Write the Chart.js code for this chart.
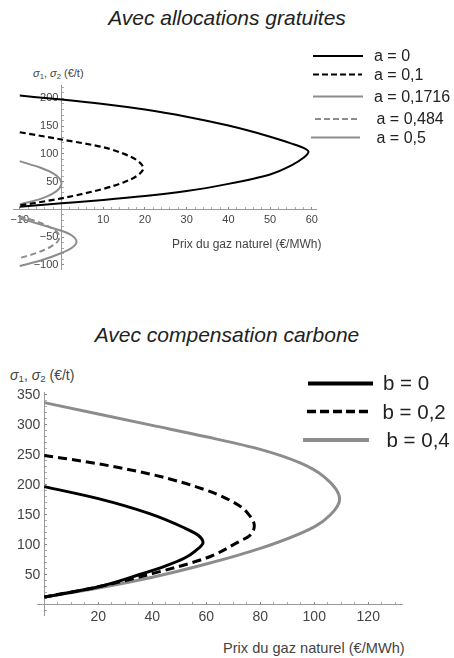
<!DOCTYPE html>
<html lang="fr">
<head>
<meta charset="utf-8">
<title>Prix du gaz naturel et prix du carbone</title>
<script src="https://cdn.jsdelivr.net/npm/chart.js@4.4.1/dist/chart.umd.min.js"></script>
<style>
  body { margin: 0; background: #fff; }
  #page { position: relative; width: 454px; height: 658px; overflow: hidden;
          font-family: 'Liberation Sans', Arial, sans-serif; color: #222; }
  .t { position: absolute; line-height: 1; white-space: nowrap; }
  .title { left: 0; width: 454px; text-align: center; font-size: 21px; font-style: italic; }
  .sig sub { font-size: 0.7em; vertical-align: -0.25em; line-height: 0; }
  canvas { position: absolute; left: 0; }
  svg { position: absolute; left: 0; top: 0; }
</style>
</head>
<body>
<div id="page">
  <div class="t title" style="top:7px">Avec allocations gratuites</div>
  <div class="t sig" style="left:33px;top:68px;font-size:11px;color:#444"><i>σ</i><sub>1</sub>, <i>σ</i><sub>2</sub> (€/t)</div>
  <canvas id="chartA" width="454" height="205" style="top:75px"></canvas>
  <div class="t" style="left:172px;top:238px;font-size:12px;color:#444">Prix du gaz naturel (€/MWh)</div>

  <div class="t title" style="top:324px">Avec compensation carbone</div>
  <div class="t sig" style="left:10px;top:368px;font-size:14px;color:#444"><i>σ</i><sub>1</sub>, <i>σ</i><sub>2</sub> (€/t)</div>
  <canvas id="chartB" width="454" height="250" style="top:380px"></canvas>
  <div class="t" style="left:223px;top:641px;font-size:14.6px;color:#444">Prix du gaz naturel (€/MWh)</div>

  <svg width="454" height="658">
    <line x1="313" y1="56" x2="363" y2="56" stroke="#000" stroke-width="2"/>
    <line x1="313" y1="74.5" x2="362" y2="74.5" stroke="#000" stroke-width="2.2" stroke-dasharray="6 3"/>
    <line x1="313" y1="96.5" x2="363" y2="96.5" stroke="#8c8c8c" stroke-width="2"/>
    <line x1="315" y1="119" x2="358" y2="119" stroke="#8c8c8c" stroke-width="2" stroke-dasharray="6 3"/>
    <line x1="311" y1="137.5" x2="360" y2="137.5" stroke="#8c8c8c" stroke-width="2"/>
    <line x1="308" y1="383.5" x2="373" y2="383.5" stroke="#000" stroke-width="4"/>
    <line x1="307" y1="411.5" x2="368" y2="411.5" stroke="#000" stroke-width="3.5" stroke-dasharray="9 4"/>
    <line x1="303" y1="440" x2="369" y2="440" stroke="#8c8c8c" stroke-width="4"/>
  </svg>
  <div class="t" style="left:374px;top:48px;font-size:16px">a = 0</div>
  <div class="t" style="left:374px;top:66.5px;font-size:16px">a = 0,1</div>
  <div class="t" style="left:374px;top:88.5px;font-size:16px">a = 0,1716</div>
  <div class="t" style="left:376.5px;top:111px;font-size:16px">a = 0,484</div>
  <div class="t" style="left:376.5px;top:129.5px;font-size:16px">a = 0,5</div>
  <div class="t" style="left:383px;top:373px;font-size:20.5px">b = 0</div>
  <div class="t" style="left:382.5px;top:401.5px;font-size:20.5px">b = 0,2</div>
  <div class="t" style="left:386.5px;top:429.5px;font-size:20.5px">b = 0,4</div>
</div>

<script>
'use strict';

// Avec allocations gratuites : prix du gaz (x) et sigma (y), le long de chaque courbe
const a0Price    = [-10, 0, 10, 20, 30, 40, 50, 55, 58, 59.2, 58, 55, 50, 40, 30, 20, 10, 0, -10];
const a0Sigma    = [205, 198, 190, 180, 167, 151, 131, 119, 111, 104, 93, 79, 63, 46, 33, 24, 17, 11, 5];
const a01Price   = [-10, 0, 10, 15, 18, 19.6, 18, 15, 10, 0, -10];
const a01Sigma   = [139, 126, 112, 100, 89, 74, 60, 49, 37, 20, 7];
const a017Price  = [-10, -5, -2, -0.5, 0, -0.5, -2, -5, -10];
const a017Sigma  = [87, 75, 65, 56, 47, 38, 29, 19, 9];
const a0484Price = [-10, -6, -3, -1, -0.5, -1, -3, -6, -10];
const a0484Sigma = [-12.5, -21.5, -31, -41.5, -50, -58.5, -69, -78.5, -87.5];
const a05Price   = [-10, -5, 0, 2.5, 3.6, 2.5, 0, -5, -10];
const a05Sigma   = [-16, -27, -38.5, -47, -58, -69, -78.5, -92, -102];

// Avec compensation carbone
const b0Price  = [0, 20, 39, 52, 57, 58.8, 56, 52, 45, 35, 20, 10, 0];
const b0Sigma  = [197, 177, 152, 128, 116, 104, 90, 78, 65, 50, 30, 21, 13];
const b02Price = [0, 20, 40, 60, 72, 76, 77.8, 76, 72, 60, 40, 20, 0];
const b02Sigma = [249, 235, 217, 191, 166, 149, 132, 115, 105, 78, 52, 30, 13];
const b04Price = [0, 20, 40, 60, 80, 95, 104, 109.4, 106, 100, 80, 60, 40, 20, 0];
const b04Sigma = [337, 318, 299, 280, 259, 236, 212, 176, 150, 130, 94, 68, 46, 28, 13];

const BLACK = '#000';
const GRAY = '#8c8c8c';
const AXIS = '#999';
const LABEL = '#444';
const FONT = "'Liberation Sans', Arial, sans-serif";

const pts = (xs, ys) => xs.map((x, i) => ({ x, y: ys[i] }));
const minus = v => (v < 0 ? '\u2212' + Math.abs(v) : String(v));

// chaque courbe est une fonction prix(sigma) : interpolation monotone le long de l'axe y
function curve(xs, ys, color, width, dash) {
  return {
    data: pts(xs, ys),
    showLine: true,
    borderColor: color,
    borderWidth: width,
    borderDash: dash || [],
    pointRadius: 0,
    cubicInterpolationMode: 'monotone',
    fill: false,
  };
}

// Axes "à la Mathematica" : croisés à l'origine, graduations vers l'intérieur
function axis(cfg) {
  const { min, max, step, major, label, at, size, pad, suffix } = cfg;
  return {
    type: 'linear', min, max,
    position: at,
    border: { display: true, color: AXIS, width: 1 },
    grid: {
      drawOnChartArea: false, drawTicks: true, tickLength: -3,
      tickColor: c => (Math.round(c.tick.value) % major === 0 ? '#888' : '#aaa'),
      tickWidth: 1,
    },
    ticks: {
      stepSize: step, autoSkip: false, maxRotation: 0, includeBounds: false,
      padding: pad, color: LABEL, font: { family: FONT, size },
      callback: v => {
        const r = Math.round(v);
        return label(r) ? minus(r) + (suffix || '') : '';
      },
    },
  };
}

function baseOptions(padding, scales) {
  return {
    responsive: false,
    animation: false,
    indexAxis: 'y',
    layout: { padding },
    plugins: { legend: { display: false }, tooltip: { enabled: false } },
    scales,
  };
}

new Chart(document.getElementById('chartA'), {
  type: 'scatter',
  data: {
    datasets: [
      curve(a0Price, a0Sigma, BLACK, 2),
      curve(a01Price, a01Sigma, BLACK, 2.2, [6, 3.5]),
      curve(a017Price, a017Sigma, GRAY, 2),
      curve(a0484Price, a0484Sigma, GRAY, 2, [6, 3.5]),
      curve(a05Price, a05Sigma, GRAY, 2),
    ],
  },
  options: baseOptions({ left: 13.5, right: 138, top: 10, bottom: 10 }, {
    x: axis({ min: -11.5, max: 61, step: 2, major: 10, at: { y: 0 }, size: 11, pad: 6.5,
              label: v => v % 10 === 0 && v !== 0 }),
    y: axis({ min: -108, max: 223, step: 10, major: 50, at: { x: 0 }, size: 11, pad: 4, suffix: ' ',
              label: v => v % 50 === 0 && v !== 0 }),
  }),
});

new Chart(document.getElementById('chartB'), {
  type: 'scatter',
  data: {
    datasets: [
      curve(b0Price, b0Sigma, BLACK, 3),
      curve(b02Price, b02Sigma, BLACK, 3, [9, 5]),
      curve(b04Price, b04Sigma, GRAY, 3),
    ],
  },
  options: baseOptions({ left: 37, right: 52, top: 10.7, bottom: 15 }, {
    x: axis({ min: -2.7, max: 132.5, step: 5, major: 20, at: { y: 0 }, size: 14, pad: 7,
              label: v => v % 20 === 0 && v !== 0 }),
    y: axis({ min: -17, max: 354, step: 10, major: 50, at: { x: 0 }, size: 14, pad: 4, suffix: ' ',
              label: v => v % 50 === 0 && v > 0 }),
  }),
});
</script>
</body>
</html>
